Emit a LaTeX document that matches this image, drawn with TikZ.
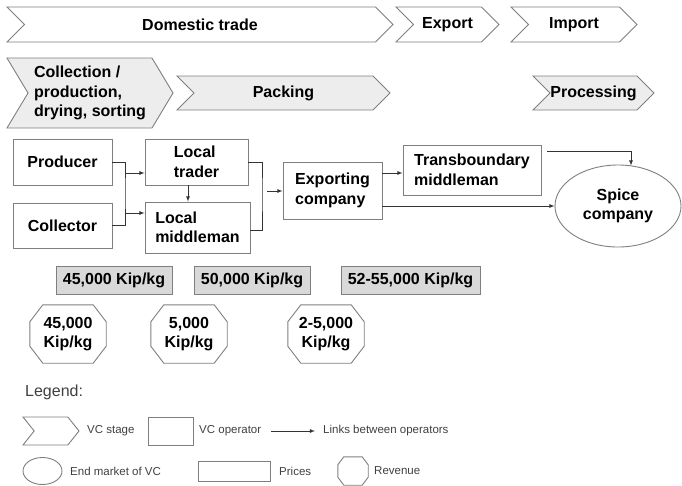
\documentclass[tikz,border=0pt]{standalone}
\usepackage{fontspec}
\setmainfont{Liberation Sans}
\usetikzlibrary{positioning, arrows, shapes.symbols, shapes.geometric}

\definecolor{edgegray}{HTML}{7F7F7F}
\definecolor{stagefill}{HTML}{EDEDED}
\definecolor{pricefill}{HTML}{D9D9D9}
\definecolor{legendtext}{HTML}{404040}

\tikzset{
  bigfont/.style={font=\bfseries\fontsize{16}{19.5}\selectfont},
  smallfont/.style={font=\fontsize{11.5}{13}\selectfont, text=legendtext},
  outline/.style={draw=edgegray, line width=0.9pt},
  stage/.style={outline, shape=signal, signal from=west,
    signal to=east, signal pointer angle=90, inner sep=0pt, fill=white, bigfont},
  operator/.style={outline, rectangle, align=left, inner sep=0pt, bigfont},
  price/.style={outline, rectangle, fill=pricefill,
    minimum width=116, minimum height=28, inner sep=0pt, bigfont},
  revenue/.style={rectangle, minimum width=76, minimum height=58, inner sep=0pt,
    align=center, bigfont},
  link/.style={draw=black!80, line width=0.8pt, -latex},
  joint/.style={draw=black!80, line width=0.8pt},
  legtext/.style={anchor=west, inner sep=0pt, smallfont}
}

% octagon round a revenue node: #1 node, #2 corner width, #3 corner height
\newcommand{\octround}[3]{%
  \draw[outline] ([xshift=#2]#1.north west) -- ([xshift=-#2]#1.north east)
    -- ([yshift=-#3]#1.north east) -- ([yshift=#3]#1.south east)
    -- ([xshift=-#2]#1.south east) -- ([xshift=#2]#1.south west)
    -- ([yshift=#3]#1.south west) -- ([yshift=-#3]#1.north west) -- cycle;}

\begin{document}
\begin{tikzpicture}[x=1pt, y=-1pt]
\useasboundingbox (0,0) rectangle (682,485);

% stages of the chain
\node (domestic) at (200,24.5) [stage, minimum width=386, minimum height=35]{Domestic trade};
\node (export) at (447.5,24.5) [stage, minimum width=103, minimum height=35]{Export};
\node (import) at (574,24.5) [stage, minimum width=126, minimum height=35]{Import};

\node (collection) at (90,93) [stage, fill=stagefill, signal pointer angle=118,
  minimum width=166, minimum height=70, align=left]{Collection /\\production,\\drying, sorting};
\node (packing) at (283.5,93) [stage, fill=stagefill, minimum width=213, minimum height=34]{Packing};
\node (processing) at (593.5,93) [stage, fill=stagefill, minimum width=121, minimum height=34]{Processing};

% operators
\node (producer) at (62.5,162) [operator, minimum width=99, minimum height=46]{Producer};
\node (collector) at (62.5,225.5) [operator, minimum width=99, minimum height=45]{Collector};
\node (ltrader) at (196.5,162) [operator, minimum width=103, minimum height=46]{Local\\trader};
\node (lmiddle) at (197.5,227.5) [operator, minimum width=105, minimum height=51]{Local\\middleman};
\node (expco) at (332.5,190.5) [operator, minimum width=99, minimum height=57]{Exporting\\company};
\node (transb) at (472,170) [operator, minimum width=138, minimum height=50]{Transboundary\\middleman};
\node (spice) at (618,206) [outline, ellipse, inner sep=0pt,
  minimum width=126, minimum height=82, align=center, bigfont]{Spice\\company};

\coordinate (j1) at (125,193);
\coordinate (a1) at (125,173);
\coordinate (a2) at (125,213);
\coordinate (j2) at (262,193);
\coordinate (a3) at (267,191);

\draw[joint] (producer.east) -| (j1) |- (collector.east);
\draw[link] (a1) -- (a1 -| ltrader.west);
\draw[link] (a2) -- (a2 -| lmiddle.west);
\draw[link] ([xshift=-8.5]ltrader.south) -- ([xshift=-8.5]ltrader.south |- lmiddle.north);
\draw[joint] (ltrader.east) -| (j2) |- ([yshift=-2.5]lmiddle.east);
\draw[link] (a3) -- (a3 -| expco.west);
\draw[link] ([yshift=17.5]expco.east) -- ([yshift=17.5]expco.east -| transb.west);
\draw[link] (expco.east |- spice.west) -- (spice.west);
\draw[link] ([xshift=6,yshift=19]transb.east) -| ([xshift=13,yshift=-1]spice.north);

% prices
\node (price1) at (114,280) [price]{45,000 Kip/kg};
\node (price2) at (252,280) [price]{50,000 Kip/kg};
\node (price3) at (410.5,280) [price, minimum width=139]{52-55,000 Kip/kg};

% revenues
\node (rev1) at (68,334) [revenue]{45,000\\Kip/kg};
\node (rev2) at (189,334) [revenue]{5,000\\Kip/kg};
\node (rev3) at (326,334) [revenue]{2-5,000\\Kip/kg};
\octround{rev1}{13}{17}
\octround{rev2}{13}{17}
\octround{rev3}{13}{17}

% legend
\node (legend) at (25,392) [anchor=west, inner sep=0pt, text=legendtext,
  font=\fontsize{16}{19}\selectfont]{Legend:};

\node (lstage) at (51,431) [stage, signal pointer angle=103, minimum width=56,
  minimum height=28]{};
\node (lstagetxt) at (87,431) [legtext]{VC stage};
\node (loper) at (170.5,431) [operator, minimum width=45, minimum height=28]{};
\node (lopertxt) at (199,431) [legtext]{VC operator};
\coordinate (larrs) at (271,431);
\coordinate (larre) at (315,431);
\draw[link] (larrs) -- (larre);
\node (llinktxt) at (323,431) [legtext]{Links between operators};

\node (lmarket) at (42.5,471) [outline, ellipse, inner sep=0pt,
  minimum width=39, minimum height=27]{};
\node (lmarkettxt) at (70,471) [legtext]{End market of VC};
\node (lprice) at (234,471) [outline, rectangle,
  minimum width=72, minimum height=20, inner sep=0pt]{};
\node (lpricetxt) at (279,471) [legtext]{Prices};
\node (lrev) at (353,471) [revenue, minimum width=30, minimum height=28]{};
\octround{lrev}{6}{8}
\node (lrevtxt) at (374,471) [legtext]{Revenue};

\end{tikzpicture}
\end{document}
